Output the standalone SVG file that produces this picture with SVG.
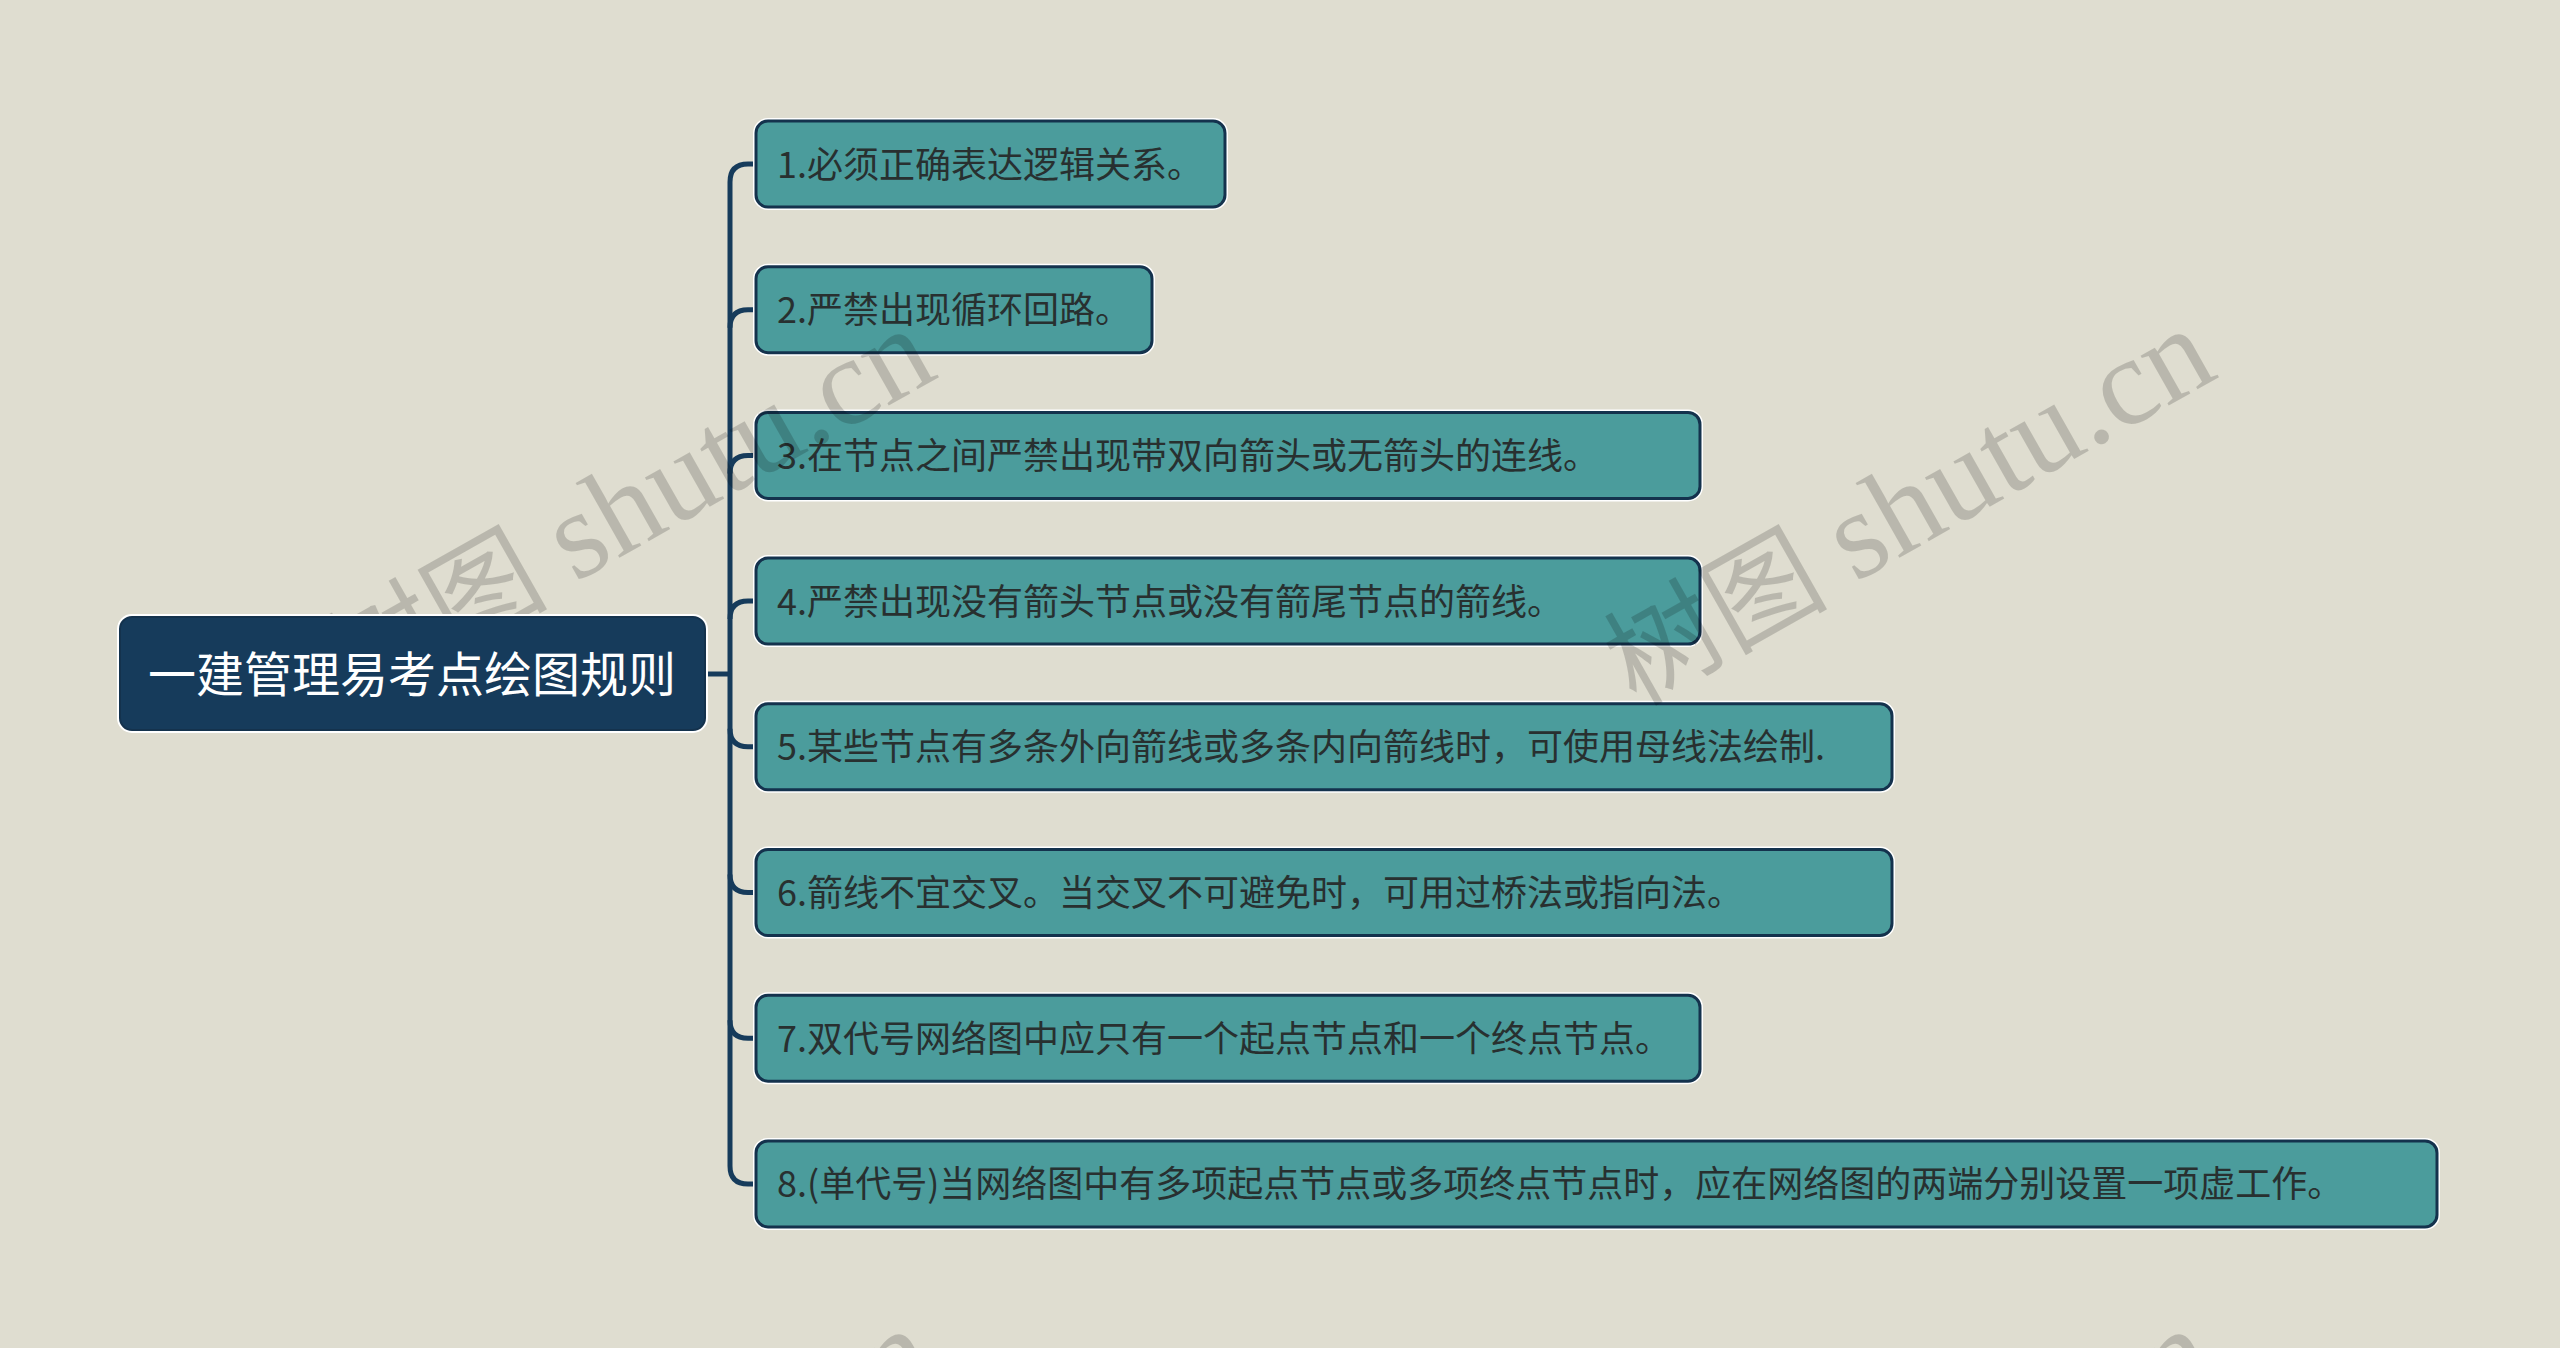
<svg xmlns="http://www.w3.org/2000/svg" width="2560" height="1348" viewBox="0 0 2560 1348">
<style>
.halo{fill:none;stroke:#ffffff;stroke-width:6}
.box{fill:#4b9c9c;stroke:#14324d;stroke-width:3}
.t{font-family:"Noto Sans CJK SC","Noto Sans",sans-serif;font-size:36px;fill:#283030}
.rootbox{fill:#163b5b;stroke:#14324d;stroke-width:2}
.rt{font-family:"Noto Sans CJK SC","Noto Sans",sans-serif;font-size:48px;fill:#ffffff;text-anchor:middle}
.conn{fill:none;stroke:#163b5b;stroke-width:5}
.wm{font-family:"Liberation Serif","Noto Sans CJK SC",serif;font-size:125px;fill:#000;fill-opacity:0.17}
.wmc{font-family:"Noto Sans CJK SC",serif;font-size:112px;fill:#000;fill-opacity:0.17}
</style>
<rect x="0" y="0" width="2560" height="1348" fill="#dfddd0"/>
<g id="connectors">
<path class="conn" d="M705,674 H730"/>
<path class="conn" d="M730,182 V1166"/>
<path class="conn" d="M757,164 H748 Q730,164 730,182"/>
<path class="conn" d="M757,309.7 H748 Q730,309.7 730,327.7"/>
<path class="conn" d="M757,455.4 H748 Q730,455.4 730,473.4"/>
<path class="conn" d="M757,601.1 H748 Q730,601.1 730,619.1"/>
<path class="conn" d="M757,746.8 H748 Q730,746.8 730,728.8"/>
<path class="conn" d="M757,892.5 H748 Q730,892.5 730,874.5"/>
<path class="conn" d="M757,1038.2 H748 Q730,1038.2 730,1020.2"/>
<path class="conn" d="M757,1183.9 H748 Q730,1183.9 730,1165.9"/>
</g>
<g id="node-1"><rect class="halo" x="756" y="121" width="469" height="86" rx="12"/><rect class="box" x="756" y="121" width="469" height="86" rx="12"/><text class="t" x="777" y="177.5">1.必须正确表达逻辑关系。</text></g>
<g id="node-2"><rect class="halo" x="756" y="266.7" width="396" height="86" rx="12"/><rect class="box" x="756" y="266.7" width="396" height="86" rx="12"/><text class="t" x="777" y="323.2">2.严禁出现循环回路。</text></g>
<g id="node-3"><rect class="halo" x="756" y="412.4" width="944" height="86" rx="12"/><rect class="box" x="756" y="412.4" width="944" height="86" rx="12"/><text class="t" x="777" y="468.9">3.在节点之间严禁出现带双向箭头或无箭头的连线。</text></g>
<g id="node-4"><rect class="halo" x="756" y="558.1" width="944" height="86" rx="12"/><rect class="box" x="756" y="558.1" width="944" height="86" rx="12"/><text class="t" x="777" y="614.6">4.严禁出现没有箭头节点或没有箭尾节点的箭线。</text></g>
<g id="node-5"><rect class="halo" x="756" y="703.8" width="1136" height="86" rx="12"/><rect class="box" x="756" y="703.8" width="1136" height="86" rx="12"/><text class="t" x="777" y="760.3">5.某些节点有多条外向箭线或多条内向箭线时，可使用母线法绘制.</text></g>
<g id="node-6"><rect class="halo" x="756" y="849.5" width="1136" height="86" rx="12"/><rect class="box" x="756" y="849.5" width="1136" height="86" rx="12"/><text class="t" x="777" y="906">6.箭线不宜交叉。当交叉不可避免时，可用过桥法或指向法。</text></g>
<g id="node-7"><rect class="halo" x="756" y="995.2" width="944" height="86" rx="12"/><rect class="box" x="756" y="995.2" width="944" height="86" rx="12"/><text class="t" x="777" y="1051.7">7.双代号网络图中应只有一个起点节点和一个终点节点。</text></g>
<g id="node-8"><rect class="halo" x="756" y="1140.9" width="1681" height="86" rx="12"/><rect class="box" x="756" y="1140.9" width="1681" height="86" rx="12"/><text class="t" x="777" y="1197.4">8.(单代号)当网络图中有多项起点节点或多项终点节点时，应在网络图的两端分别设置一项虚工作。</text></g>
<g id="watermarks">
<g transform="translate(575,583) rotate(-29.5)"><text class="wmc" x="-28" y="0" text-anchor="end">树图</text><text class="wm" x="0" y="0">shutu.cn</text></g>
<g transform="translate(1855,583) rotate(-29.5)"><text class="wmc" x="-28" y="0" text-anchor="end">树图</text><text class="wm" x="0" y="0">shutu.cn</text></g>
<g transform="translate(575,1583) rotate(-29.5)"><text class="wmc" x="-28" y="0" text-anchor="end">树图</text><text class="wm" x="0" y="0">shutu.cn</text></g>
<g transform="translate(1855,1583) rotate(-29.5)"><text class="wmc" x="-28" y="0" text-anchor="end">树图</text><text class="wm" x="0" y="0">shutu.cn</text></g>
</g>
<g id="root"><rect class="halo" x="120" y="617" width="585" height="113" rx="12"/><rect class="rootbox" x="120" y="617" width="585" height="113" rx="12"/><text class="rt" x="412" y="692">一建管理易考点绘图规则</text></g>
</svg>
